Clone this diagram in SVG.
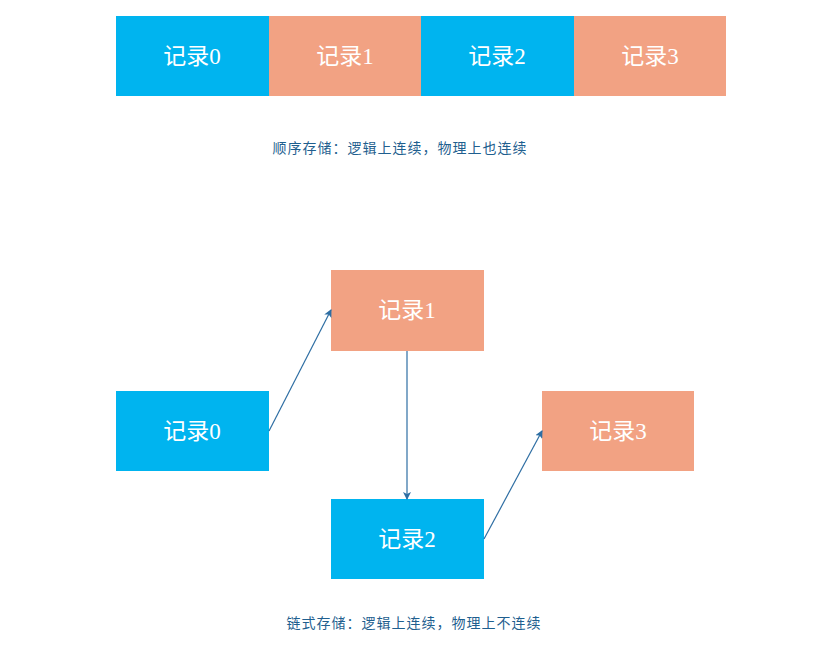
<svg xmlns="http://www.w3.org/2000/svg" width="829" height="669" viewBox="0 0 829 669">
<style>
.blue{fill:#00B4EF}
.red{fill:#F2A283}
.lbl{font-family:"Liberation Serif","Noto Sans CJK SC",serif;font-size:23px;fill:#FFFFFF;text-anchor:middle}
.cap{font-family:"Noto Sans CJK SC","Liberation Sans",sans-serif;font-size:14px;letter-spacing:1px;fill:#1F5F8F;text-anchor:middle}
.ln{stroke:#2E6EA3;stroke-width:1.2;fill:none;marker-end:url(#ah)}
</style>
<defs>
<marker id="ah" markerWidth="8" markerHeight="8" refX="7" refY="4" orient="auto" markerUnits="userSpaceOnUse">
<path d="M0,0 L8,4 L0,8 L2,4 Z" fill="#2E6EA3"/>
</marker>
</defs>
<rect width="829" height="669" fill="#FFFFFF"/>
<g id="seq0"><rect class="blue" x="116" y="16" width="153" height="80"/><text class="lbl" x="192" y="64">记录0</text></g>
<g id="seq1"><rect class="red" x="269" y="16" width="152" height="80"/><text class="lbl" x="345" y="64">记录1</text></g>
<g id="seq2"><rect class="blue" x="421" y="16" width="153" height="80"/><text class="lbl" x="497" y="64">记录2</text></g>
<g id="seq3"><rect class="red" x="574" y="16" width="152" height="80"/><text class="lbl" x="650" y="64">记录3</text></g>
<text class="cap" x="400" y="153">顺序存储：逻辑上连续，物理上也连续</text>
<g id="link1"><rect class="red" x="331" y="270" width="153" height="81"/><text class="lbl" x="407" y="318">记录1</text></g>
<g id="link0"><rect class="blue" x="116" y="391" width="153" height="80"/><text class="lbl" x="192" y="439">记录0</text></g>
<g id="link3"><rect class="red" x="542" y="391" width="152" height="80"/><text class="lbl" x="618" y="439">记录3</text></g>
<g id="link2"><rect class="blue" x="331" y="499" width="153" height="80"/><text class="lbl" x="407" y="547">记录2</text></g>
<g id="connectors">
<line class="ln" x1="269" y1="431" x2="331" y2="310"/>
<line class="ln" x1="407" y1="351" x2="407" y2="499"/>
<line class="ln" x1="484" y1="539" x2="542" y2="431"/>
</g>
<text class="cap" x="414" y="628">链式存储：逻辑上连续，物理上不连续</text>
</svg>
